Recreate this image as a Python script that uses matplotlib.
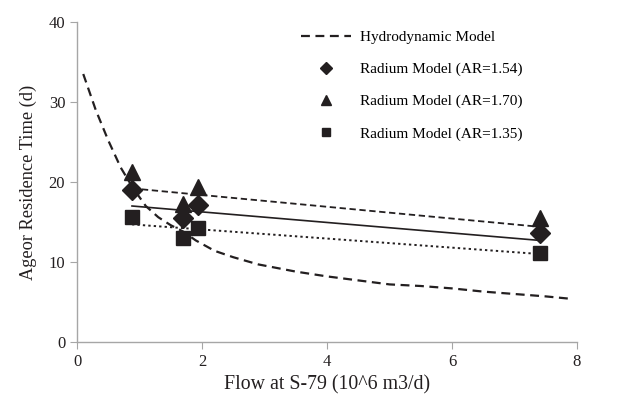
import matplotlib.pyplot as plt
import numpy as np

plt.rcParams['font.family'] = ['Liberation Serif', 'DejaVu Serif']

# hydrodynamic model curve
hydro_x = [0.1, 0.3, 0.5, 0.7, 0.9, 1.1, 1.3, 1.5, 1.7, 1.9, 2.2, 2.5, 2.9, 3.5, 4.0, 4.5, 5.0, 5.5, 6.0, 6.5, 7.0, 7.5, 7.9]
hydro_y = [33.5, 29.0, 25.2, 21.8, 19.2, 17.0, 15.6, 14.6, 13.8, 12.7, 11.4, 10.6, 9.7, 8.8, 8.2, 7.7, 7.2, 7.0, 6.7, 6.3, 6.0, 5.7, 5.4]

# radium model points
flow = [0.88, 1.70, 1.93, 7.40]
ar154 = [19.0, 15.5, 17.1, 13.6]
ar170 = [21.2, 17.3, 19.4, 15.5]
ar135 = [15.6, 13.0, 14.2, 11.1]

# trend lines (end points)
trend_x = [0.88, 7.40]
trend154 = [17.0, 12.7]
trend170 = [19.2, 14.4]
trend135 = [14.7, 11.0]

ink = '#231f20'
grey = '#a6a6a6'

fig = plt.figure(figsize=(6.18, 3.99), dpi=100)
ax = fig.add_axes([77/618, 1-342/399, 500/618, 320/399])

ax.plot(hydro_x, hydro_y, color=ink, lw=1.6, ls=(0, (4, 2.5)), label='Hydrodynamic Model')
ax.plot(flow, ar154, 'D', color=ink, ms=10, label='Radium Model (AR=1.54)')
ax.plot(flow, ar170, '^', color=ink, ms=11, label='Radium Model (AR=1.70)')
ax.plot(flow, ar135, 's', color=ink, ms=10, label='Radium Model (AR=1.35)')

ax.plot(trend_x, trend154, color=ink, lw=1.2, ls='-')
ax.plot(trend_x, trend170, color=ink, lw=1.3, ls=(0, (3.5, 2)))
ax.plot(trend_x, trend135, color=ink, lw=1.4, ls=(0, (1.2, 1.6)))

ax.set_xlim(0, 8)
ax.set_ylim(0, 40)
ax.set_xticks([0, 2, 4, 6, 8])
ax.set_yticks([0, 10, 20, 30, 40])
for s in ['top', 'right']:
    ax.spines[s].set_visible(False)
for s in ['left', 'bottom']:
    ax.spines[s].set_color(grey)
    ax.spines[s].set_linewidth(1.0)
ax.tick_params(direction='out', length=5, color=grey, labelsize=12, labelcolor=ink)
ax.set_xlabel('Flow at S-79 (10^6 m3/d)', fontsize=14.3, color=ink, labelpad=4)
ax.set_ylabel('Ageor Residence Time (d)', fontsize=13.2, color=ink, labelpad=8)

ax.legend(loc='upper left', bbox_to_anchor=(0.42, 1.017), frameon=False, fontsize=11,
          handlelength=3.3, labelspacing=1.2, handletextpad=0.55, markerscale=0.6)

fig.savefig('out.png', dpi=100)
